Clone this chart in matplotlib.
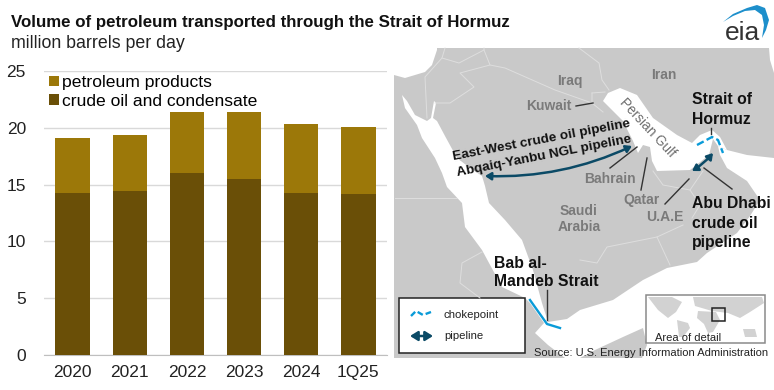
import matplotlib
matplotlib.use("Agg")
import matplotlib.pyplot as plt
from matplotlib.patches import Polygon, Rectangle, FancyArrowPatch

plt.rcParams['font.family'] = ['Liberation Sans', 'DejaVu Sans']

years = ['2020', '2021', '2022', '2023', '2024', '1Q25']
crude = [14.3, 14.4, 16.0, 15.5, 14.3, 14.2]
products = [4.8, 5.0, 5.4, 5.9, 6.0, 5.9]
yticks = [0, 5, 10, 15, 20, 25]

W, H = 774, 390
LAND = '#c9c9c9'
BORDER = '#dedede'
LABEL = '#7a7a7a'
PIPE = '#0b4a66'
CHOKE = '#0a9bd8'

# map outlines, in image pixels
med_sea = [(394, 48), (394, 75), (405, 78), (415, 75), (425, 72), (432, 65), (437, 50), (437, 48)]
red_sea = [(402, 95), (407, 101), (415, 115), (427, 121), (431, 118), (434, 101), (436, 103), (433, 118),
           (437, 121), (445, 136), (457, 158), (470, 168), (482, 176), (485, 186), (489, 203), (505, 220),
           (522, 240), (533, 270), (542, 303), (548, 322), (567, 319), (580, 310), (613, 300), (643, 280),
           (667, 268), (697, 262), (707, 253), (737, 233), (750, 216), (760, 200), (747, 181), (727, 168),
           (720, 155), (718, 146), (727, 150), (747, 155), (774, 158), (774, 358), (642, 358), (647, 345),
           (643, 328), (623, 337), (595, 350), (580, 358), (565, 358), (548, 345), (535, 333), (544, 323),
           (530, 303), (525, 298), (502, 287), (482, 250), (465, 227), (462, 203), (447, 187),
           (442, 173), (435, 158), (422, 138), (417, 125), (405, 108)]
gulf = [(603, 101), (608, 93), (620, 88), (637, 95), (653, 118), (677, 135), (692, 143), (700, 135),
        (712, 130), (720, 137), (727, 150), (718, 146), (713, 139), (709, 155), (690, 170), (657, 171),
        (652, 161), (650, 147), (643, 145), (638, 153), (633, 141), (623, 121), (613, 111)]
caspian = [(769, 48), (770, 60), (774, 73), (774, 48)]
borders = [
    [(427, 118), (425, 77), (442, 58), (445, 48)],
    [(442, 58), (459, 63), (484, 50), (484, 48)],
    [(484, 50), (490, 65), (460, 73), (474, 87), (450, 103), (435, 103)],
    [(490, 65), (505, 68), (555, 90), (592, 103)],
    [(579, 48), (599, 63), (602, 80), (609, 90)],
    [(592, 93), (605, 92)],
    [(592, 93), (592, 103), (603, 112)],
    [(683, 225), (657, 237), (607, 247), (597, 263), (580, 260)],
    [(657, 237), (670, 265)],
    [(653, 171), (663, 185), (690, 190), (703, 171)],
    [(690, 190), (700, 205), (692, 218)],
    [(395, 198), (457, 198)],
    [(482, 252), (462, 263), (460, 283), (480, 298)],
]
leaders = [
    [(576, 106), (593, 103)],
    [(610, 168), (637, 147)],
    [(641, 190), (647, 158)],
    [(665, 204), (689, 179)],
    [(732, 189), (704, 168)],
    [(711, 128), (711, 134)],
    [(547, 290), (547, 320)],
]
hormuz = [(697, 145), (712, 137), (718, 140), (723, 153)]
bab = [(530, 300), (547, 324), (560, 328)]
world = [
    [(648, 297), (672, 297), (682, 302), (676, 312), (668, 318), (658, 310)],
    [(677, 320), (688, 323), (690, 328), (683, 337), (679, 337)],
    [(693, 297), (712, 297), (728, 297), (762, 297), (764, 303), (750, 312), (740, 318), (728, 313), (712, 311), (695, 306)],
    [(698, 311), (716, 312), (720, 320), (713, 332), (708, 333), (704, 324), (697, 318)],
    [(743, 329), (755, 329), (757, 337), (745, 337)],
]
swoosh = [(723, 22), (733, 14), (747, 8), (757, 5), (765, 8), (769, 20), (766, 30), (762, 38),
          (764, 25), (762, 15), (755, 10), (745, 11), (733, 16)]

fig = plt.figure(figsize=(W / 100, H / 100), dpi=100)

# whole-figure layer for the map and the texts
m = fig.add_axes([0, 0, 1, 1])
m.set_xlim(0, W)
m.set_ylim(H, 0)
m.axis('off')

m.add_patch(Rectangle((394, 48), 380, 310, fc=LAND, ec='none'))
for shape in [med_sea, red_sea, gulf, caspian]:
    m.add_patch(Polygon(shape, fc='white', ec='none'))
for b in borders:
    m.plot(*zip(*b), color=BORDER, lw=0.7)
for l in leaders:
    m.plot(*zip(*l), color='#333333', lw=1.0)

m.plot(*zip(*hormuz), color=CHOKE, lw=1.7, ls=(0, (3.2, 1.4)))
m.plot(*zip(*bab), color=CHOKE, lw=1.7)

arrow = dict(arrowstyle='<|-|>,head_length=3.5,head_width=2.2', color=PIPE, lw=1.8, shrinkA=0, shrinkB=0)
m.add_patch(FancyArrowPatch((485, 176), (632, 146), connectionstyle='arc3,rad=0.12', **arrow))
m.add_patch(FancyArrowPatch((692, 171), (713, 153), connectionstyle='arc3,rad=0.08', **arrow))

for txt, x, y in [('Iraq', 570, 81), ('Iran', 664, 75), ('Kuwait', 549, 106), ('Bahrain', 610, 179),
                  ('Qatar', 641, 200), ('U.A.E', 665, 217), ('Saudi', 579, 211), ('Arabia', 579, 227)]:
    m.text(x, y, txt, color=LABEL, fontsize=10, fontweight='bold', ha='center', va='center')
m.text(648, 128, 'Persian Gulf', color='#6e6e6e', fontsize=9.8, rotation=-47, ha='center', va='center', rotation_mode='anchor')

for txt, x, y in [('Strait of', 692, 100), ('Hormuz', 692, 119), ('Abu Dhabi', 692, 204), ('crude oil', 692, 223),
                  ('pipeline', 692, 242), ('Bab al-', 494, 263), ('Mandeb Strait', 494, 282)]:
    m.text(x, y, txt, color='#111111', fontsize=11.3, fontweight='bold', ha='left', va='center')
m.text(542, 140, 'East-West crude oil pipeline', color='#111111', fontsize=9.7, fontweight='bold',
       rotation=10.7, ha='center', va='center', rotation_mode='anchor')
m.text(544, 156, 'Abqaiq-Yanbu NGL pipeline', color='#111111', fontsize=9.7, fontweight='bold',
       rotation=11, ha='center', va='center', rotation_mode='anchor')

# legend box of the map
m.add_patch(Rectangle((399, 298), 126, 55, fc='white', ec='#222222', lw=1.1))
m.plot([411, 416, 423, 431], [316, 311, 315, 312], color=CHOKE, lw=1.7, ls=(0, (2.5, 1.3)))
m.add_patch(FancyArrowPatch((410, 336), (433, 336), **dict(arrow, arrowstyle='<|-|>,head_length=4.5,head_width=2.8')))
m.text(444, 315, 'chokepoint', color='#222222', fontsize=8.2, ha='left', va='center')
m.text(444, 336, 'pipeline', color='#222222', fontsize=8.2, ha='left', va='center')

# inset world map
m.add_patch(Rectangle((646, 295), 119, 48, fc='white', ec='#8a8a8a', lw=1.1))
for shape in world:
    m.add_patch(Polygon(shape, fc='#d2d2d2', ec='none'))
m.add_patch(Rectangle((712, 308), 13, 13, fc='none', ec='#222222', lw=1.1))
m.text(655, 338, 'Area of detail', color='#222222', fontsize=8, ha='left', va='center')
m.text(534, 352.5, 'Source: U.S. Energy Information Administration', color='#222222', fontsize=8, ha='left', va='center')

m.text(11, 22, 'Volume of petroleum transported through the Strait of Hormuz', color='#111111',
       fontsize=12.2, fontweight='bold', ha='left', va='center')
m.text(11, 43, 'million barrels per day', color='#222222', fontsize=12.8, ha='left', va='center')

# eia logo
m.add_patch(Polygon(swoosh, fc='#1d8fcb', ec='none'))
m.text(742, 33, 'eia', color='#333333', fontsize=19, ha='center', va='center')

# bar chart
ax = fig.add_axes([44 / W, 1 - 355 / H, 343 / W, 284 / H])
ax.patch.set_alpha(0)
x = range(len(years))
ax.bar(x, crude, width=0.6, color='#6a4f07', label='crude oil and condensate', zorder=3)
ax.bar(x, products, width=0.6, bottom=crude, color='#9c7809', label='petroleum products', zorder=3)
ax.set_xlim(-0.5, 5.5)
ax.set_ylim(0, 25)
ax.set_xticks(list(x))
ax.set_xticklabels(years)
ax.set_yticks(yticks)
ax.tick_params(length=0, labelsize=12.5, colors='#222222', pad=7)
ax.tick_params(axis='y', pad=13)
ax.grid(axis='y', color='#d9d9d9', lw=1)
ax.set_axisbelow(True)
for s in ['top', 'left', 'right']:
    ax.spines[s].set_visible(False)
ax.spines['bottom'].set_color('#bfbfbf')
h, l = ax.get_legend_handles_labels()
ax.legend(h[::-1], l[::-1], loc='upper left', bbox_to_anchor=(0.0, 1.003), frameon=False, fontsize=12.6,
          handlelength=0.55, handleheight=0.55, handletextpad=0.2, labelspacing=0.2, borderpad=0, borderaxespad=0.3)

fig.savefig('out.png', dpi=100)
